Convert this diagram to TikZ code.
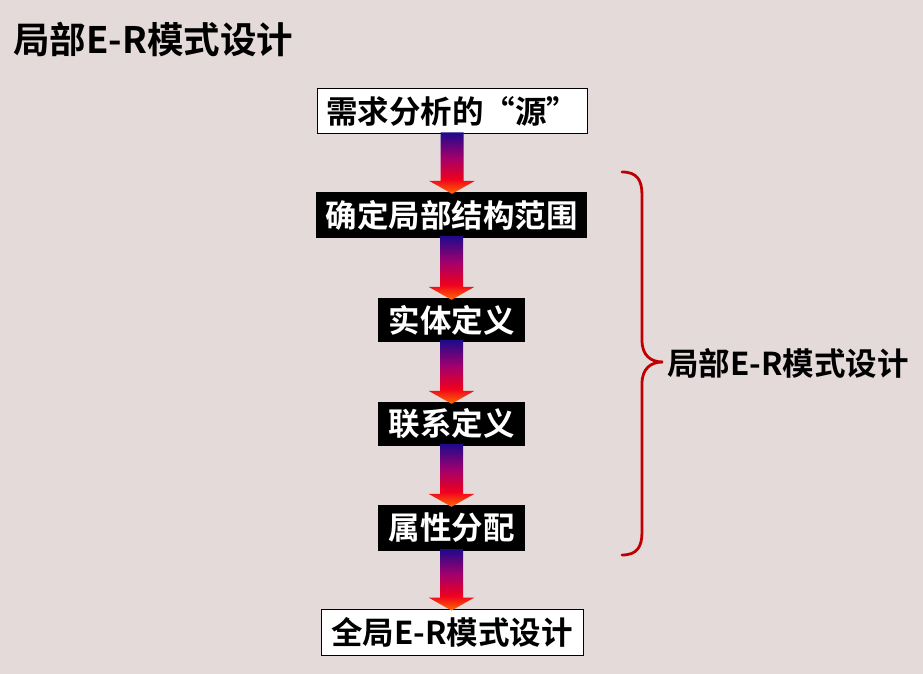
\documentclass[tikz,border=0pt]{standalone}
\usepackage{fontspec}
\setmainfont{Noto Sans CJK SC}[BoldFont={Noto Sans CJK SC Bold}]
\usetikzlibrary{calc}
\definecolor{bgc}{HTML}{E4DADA}
\definecolor{bracered}{HTML}{C00000}
\definecolor{adark}{HTML}{1E0A8C}
\definecolor{amag}{HTML}{A0006E}
\definecolor{ared}{HTML}{F0001E}
\definecolor{aorange}{HTML}{FF6A00}
\pgfdeclareverticalshading{arrowshade}{100bp}{color(0bp)=(aorange); color(25bp)=(aorange); color(37bp)=(ared); color(55bp)=(amag); color(75bp)=(adark); color(100bp)=(adark)}
\tikzset{
  whitebox/.style={draw=black, line width=1pt, fill=white, text=black, inner sep=0pt, font=\bfseries\fontsize{31.5}{34}\selectfont},
  blackbox/.style={fill=black, text=white, inner sep=0pt, font=\bfseries\fontsize{31.5}{34}\selectfont},
  lbl/.style={text=black, inner sep=0pt, font=\bfseries\fontsize{31.5}{34}\selectfont},
  titlefont/.style={text=black, inner sep=0pt, font=\bfseries\fontsize{36.5}{40}\selectfont},
}
\newcommand{\grarrow}[2]{%
  \path let \p1=($(#1.south)+(0,-2)$), \p2=($(#2.north)+(0,2)$) in
    [shading=arrowshade, shading angle=0]
    (\x1-11.5,\y1) -- (\x1+11.5,\y1) -- (\x1+11.5,\y2+13) -- (\x1+23,\y2+13)
    -- (\x1,\y2) -- (\x1-23,\y2+13) -- (\x1-11.5,\y2+13) -- cycle;
}
\begin{document}
\begin{tikzpicture}[x=1pt,y=-1pt]
\fill[bgc] (0,0) rectangle (923,674);
\useasboundingbox (0,0) rectangle (923,674);

\node[titlefont, anchor=west] (title) at (13,40) {局部E-R模式设计};

\node[whitebox, minimum width=270, minimum height=45] (b1) at (452,111.5) {需求分析的“源”};
\node[blackbox, minimum width=271, minimum height=46] (b2) at (451.5,215) {确定局部结构范围};
\node[blackbox, minimum width=147, minimum height=44] (b3) at (451.5,320) {实体定义};
\node[blackbox, minimum width=147, minimum height=44] (b4) at (451.5,424) {联系定义};
\node[blackbox, minimum width=147, minimum height=46] (b5) at (451.5,528) {属性分配};
\node[whitebox, minimum width=262, minimum height=46] (b6) at (452,632) {全局E-R模式设计};

\grarrow{b1}{b2}
\grarrow{b2}{b3}
\grarrow{b3}{b4}
\grarrow{b4}{b5}
\grarrow{b5}{b6}

\coordinate (btop) at (622,172);
\coordinate (btip) at (663,362);
\coordinate (bbot) at (622,555);
\draw[bracered, line width=2.8pt, line cap=round]
  (btop) .. controls (637,172) and (642,180) .. (642,195)
  -- (642,340) .. controls (642,355) and (650,362) .. (btip)
  .. controls (650,362) and (642,369) .. (642,384)
  -- (642,532) .. controls (642,547) and (637,555) .. (bbot);
\node[lbl, anchor=west] (blabel) at (667,363) {局部E-R模式设计};
\end{tikzpicture}
\end{document}
